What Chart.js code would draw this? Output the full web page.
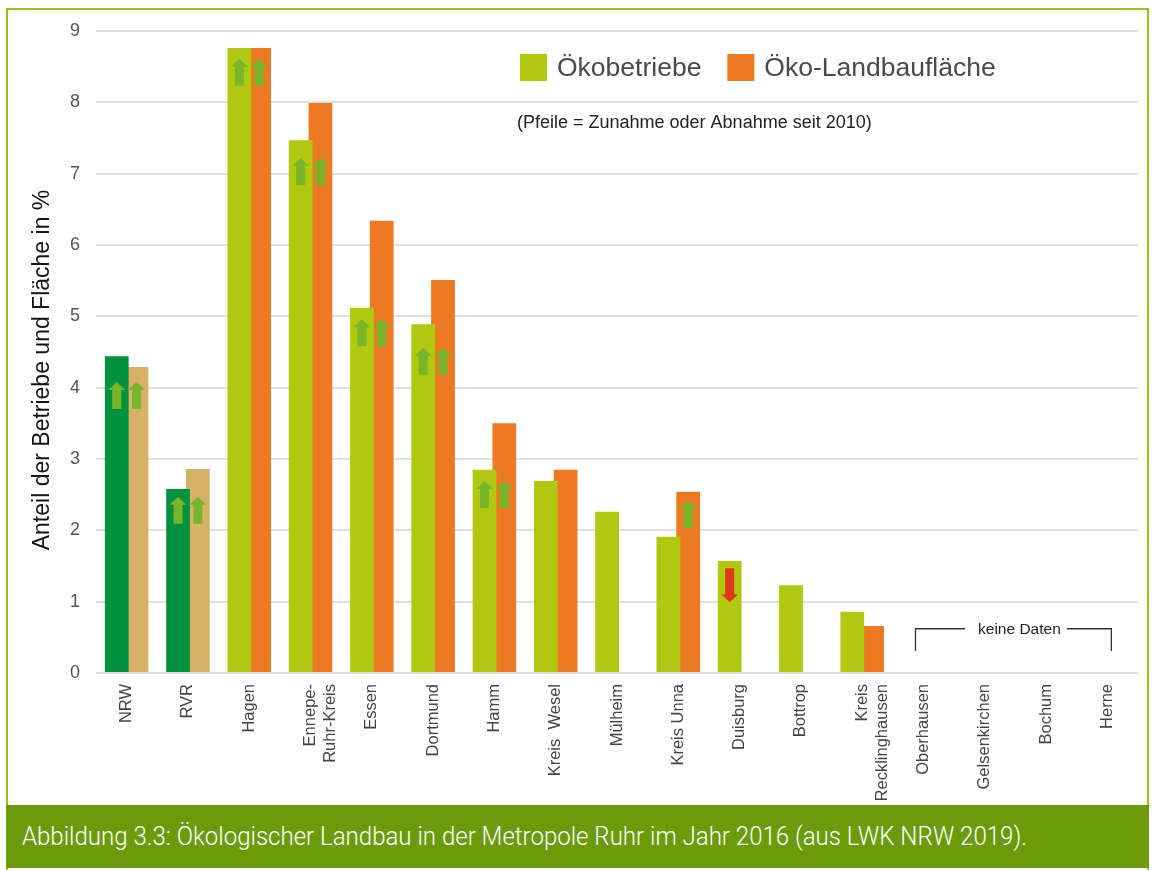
<!DOCTYPE html>
<html lang="de">
<head>
<meta charset="utf-8">
<title>Ökologischer Landbau in der Metropole Ruhr 2016</title>
<script src="https://cdn.jsdelivr.net/npm/chart.js@4.4.1/dist/chart.umd.min.js"></script>
<style>
  html, body { margin: 0; padding: 0; background: #fff; }
  body { width: 1154px; height: 870px; position: relative; overflow: hidden; font-family: "Liberation Sans", Arial, sans-serif; }
  .frame { position: absolute; left: 6px; top: 8px; width: 1139px; height: 860px; border: 2px solid #95c11f; border-bottom: none; }
  .plot { position: absolute; left: 0; top: 0; width: 1154px; height: 800px; }
  .caption {
    position: absolute; left: 6px; top: 805px; width: 1143px; height: 63px;
    background: #6b9b0a; color: #fff;
  }
  .caption span {
    position: absolute; left: 16px; top: 0; line-height: 63px;
    font-family: Roboto, "Liberation Sans", sans-serif; font-weight: 300; font-size: 26px;
    white-space: nowrap; transform-origin: 0 50%;
  }
</style>
</head>
<body>
<div class="frame"></div>
<div class="plot"><canvas id="chart"></canvas></div>
<div class="caption"><span id="cap">Abbildung 3.3: Ökologischer Landbau in der Metropole Ruhr im Jahr 2016 (aus LWK NRW 2019).</span></div>

<script>
// Anteil ökologisch wirtschaftender Betriebe bzw. Fläche in %, Stand 2016
const labels = ['NRW', 'RVR', 'Hagen', ['Ennepe-', 'Ruhr-Kreis'], 'Essen', 'Dortmund', 'Hamm', 'Kreis  Wesel',
  'Mülheim', 'Kreis Unna', 'Duisburg', 'Bottrop', ['Kreis', 'Recklinghausen'], 'Oberhausen', 'Gelsenkirchen', 'Bochum', 'Herne'];
const betriebe = [4.44, 2.58, 8.76, 7.47, 5.12, 4.89, 2.85, 2.69, 2.26, 1.91, 1.57, 1.23, 0.86, null, null, null, null];
const flaeche  = [4.29, 2.86, 8.76, 7.99, 6.34, 5.51, 3.50, 2.85, null, 2.54, null, null, 0.66, null, null, null, null];

// Entwicklung seit 2010: 1 = Zunahme, -1 = Abnahme, 0 = kein Pfeil
const trendBetriebe = [1, 1, 1, 1, 1, 1, 1, 0, 0, 0, -1, 0, 0, 0, 0, 0, 0];
const trendFlaeche  = [1, 1, 1, 1, 1, 1, 1, 0, 0, 1, 0, 0, 0, 0, 0, 0, 0];
// Höhe (in %) an der die Pfeilspitze bzw. der Pfeilschaft beginnt
const arrowLevel = [4.08, 2.47, 8.61, 7.22, 4.96, 4.56, 2.69, null, null, 2.41, 1.47, null, null, null, null, null, null];

// keine Daten für die letzten vier Städte
const noDataFrom = 13, noDataTo = 16;

const yTicks = [0, 1, 2, 3, 4, 5, 6, 7, 8, 9];
const yTitle = 'Anteil der Betriebe und Fläche in %';

// NRW und RVR als Vergleichswerte in eigenen Farben
const referenceCount = 2;
const colBetriebe = labels.map((_, i) => i < referenceCount ? '#00923f' : '#b0c80f');
const colFlaeche = labels.map((_, i) => i < referenceCount ? '#d7b168' : '#ec7a23');

const FONT = '"Liberation Sans", Arial, sans-serif';

function drawArrow(ctx, x, y, dir, color) {
  const hw = 8.5, sw = 4.5, head = 8;
  const len = dir > 0 ? 27 : 34;
  ctx.save();
  ctx.fillStyle = color;
  ctx.beginPath();
  if (dir > 0) {
    ctx.moveTo(x, y);
    ctx.lineTo(x + hw, y + head);
    ctx.lineTo(x + sw, y + head);
    ctx.lineTo(x + sw, y + len);
    ctx.lineTo(x - sw, y + len);
    ctx.lineTo(x - sw, y + head);
    ctx.lineTo(x - hw, y + head);
  } else {
    const yb = y + len;
    ctx.moveTo(x - sw, y);
    ctx.lineTo(x + sw, y);
    ctx.lineTo(x + sw, yb - head);
    ctx.lineTo(x + hw, yb - head);
    ctx.lineTo(x, yb);
    ctx.lineTo(x - hw, yb - head);
    ctx.lineTo(x - sw, yb - head);
  }
  ctx.closePath();
  ctx.fill();
  ctx.restore();
}

const extras = {
  id: 'extras',
  afterDatasetsDraw(chart) {
    const { ctx, chartArea, scales: { x, y } } = chart;
    const trends = [trendBetriebe, trendFlaeche];

    // Pfeile in den Balken
    trends.forEach((trend, di) => {
      const meta = chart.getDatasetMeta(di);
      trend.forEach((dir, i) => {
        if (!dir || arrowLevel[i] == null) return;
        const bar = meta.data[i];
        drawArrow(ctx, bar.x, y.getPixelForValue(arrowLevel[i]), dir, dir > 0 ? '#79b52b' : '#e2371b');
      });
    });

    ctx.save();
    // Achsentitel
    ctx.translate(43, (chartArea.top + chartArea.bottom) / 2 + 18);
    ctx.rotate(-Math.PI / 2);
    ctx.font = '23px ' + FONT;
    ctx.fillStyle = '#141414';
    ctx.textAlign = 'center';
    ctx.textBaseline = 'middle';
    ctx.fillText(yTitle, 0, 0);
    ctx.restore();

    // Legende
    ctx.save();
    ctx.font = '26.5px ' + FONT;
    ctx.textBaseline = 'middle';
    let lx = 520;
    chart.data.datasets.forEach(ds => {
      ctx.fillStyle = ds.legendColor;
      ctx.fillRect(lx, 54, 27, 27);
      ctx.fillStyle = '#4a4a4a';
      ctx.fillText(ds.label, lx + 37, 69);
      lx += 37 + ctx.measureText(ds.label).width + 26;
    });

    ctx.font = '18px ' + FONT;
    ctx.fillStyle = '#222';
    ctx.fillText('(Pfeile = Zunahme oder Abnahme seit 2010)', 517, 123);

    // Klammer "keine Daten"
    const bl = x.getPixelForValue(noDataFrom) - 8;
    const br = x.getPixelForValue(noDataTo) + 4;
    const bt = y.getPixelForValue(0.62);
    const bb = y.getPixelForValue(0.31);
    ctx.font = '15.5px ' + FONT;
    const txt = 'keine Daten';
    const tw = ctx.measureText(txt).width;
    const tc = (bl + br) / 2 + 6;
    ctx.strokeStyle = '#333';
    ctx.lineWidth = 1.3;
    ctx.beginPath();
    ctx.moveTo(bl, bb); ctx.lineTo(bl, bt); ctx.lineTo(tc - tw / 2 - 13, bt);
    ctx.moveTo(tc + tw / 2 + 6, bt); ctx.lineTo(br, bt); ctx.lineTo(br, bb);
    ctx.stroke();
    ctx.fillStyle = '#222';
    ctx.textAlign = 'center';
    ctx.fillText(txt, tc, bt + 1);
    ctx.restore();
  }
};

new Chart(document.getElementById('chart'), {
  type: 'bar',
  data: {
    labels: labels,
    datasets: [
      { label: 'Ökobetriebe', data: betriebe, backgroundColor: colBetriebe, legendColor: '#b0c80f' },
      { label: 'Öko-Landbaufläche', data: flaeche, backgroundColor: colFlaeche, legendColor: '#ec7a23' }
    ]
  },
  options: {
    responsive: true,
    maintainAspectRatio: false,
    animation: false,
    categoryPercentage: 0.646,
    barPercentage: 1.2,
    layout: { padding: { left: 0, right: 16, top: 31, bottom: 0 } },
    plugins: { legend: { display: false }, tooltip: { enabled: false } },
    scales: {
      x: {
        grid: { display: false },
        border: { display: false },
        ticks: {
          autoSkip: false, minRotation: 90, maxRotation: 90, padding: 3,
          color: '#444', font: { family: FONT, size: 16.5 }
        },
        afterFit(scale) { scale.height = 127; }
      },
      y: {
        min: 0, max: 9,
        afterBuildTicks(scale) { scale.ticks = yTicks.map(v => ({ value: v })); },
        grid: { color: '#e0e0e0', lineWidth: 2, drawTicks: false },
        border: { display: false },
        ticks: {
          padding: 16, color: '#555',
          font: { family: FONT, size: 18 }
        },
        afterFit(scale) { scale.width = 96; }
      }
    }
  },
  plugins: [extras]
});

// Bildunterschrift auf die Breite der schmalen Satzschrift bringen
const cap = document.getElementById('cap');
cap.style.transform = 'scaleX(' + (1005 / cap.getBoundingClientRect().width) + ')';
</script>
</body>
</html>
